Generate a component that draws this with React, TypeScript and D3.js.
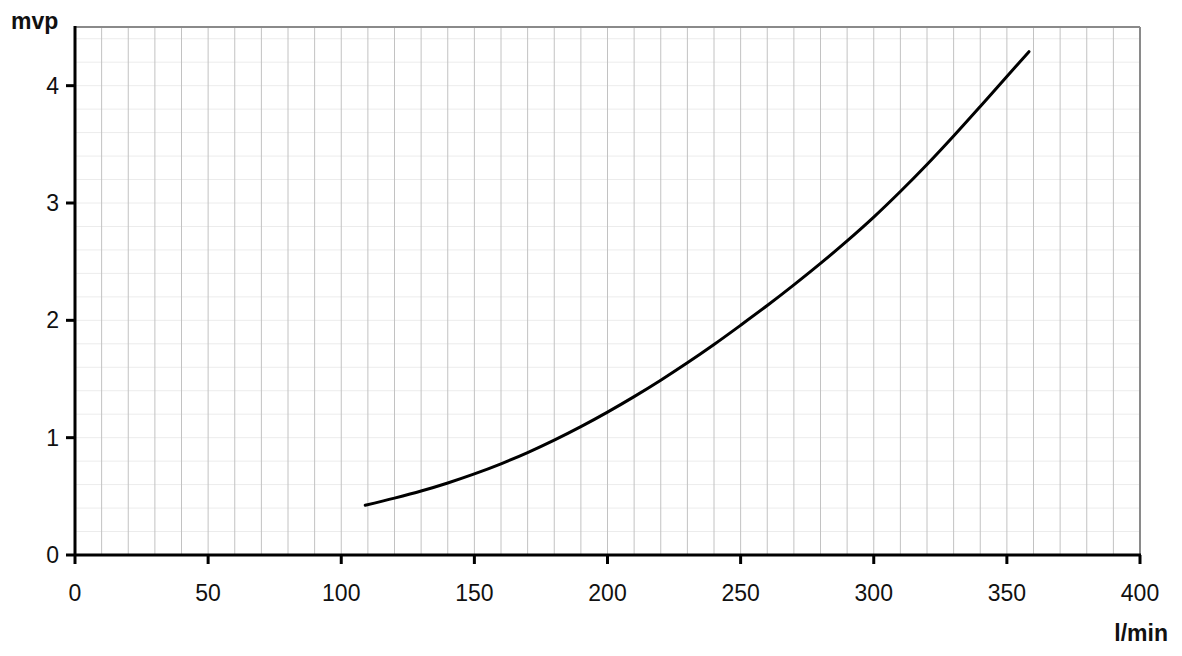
import React from "react";
import * as d3 from "d3";

const flowValues = [109, 120, 130, 140, 150, 160, 170, 180, 190, 200, 210, 220, 230, 240, 250, 260, 270, 280, 290, 300, 310, 320, 330, 340, 350, 358.3];
const pressureValues = [0.424, 0.485, 0.545, 0.614, 0.691, 0.777, 0.873, 0.979, 1.094, 1.218, 1.35, 1.49, 1.638, 1.794, 1.958, 2.126, 2.302, 2.485, 2.677, 2.88, 3.098, 3.328, 3.571, 3.823, 4.079, 4.29];
const xTicks = [0, 50, 100, 150, 200, 250, 300, 350, 400];
const yTicks = [0, 1, 2, 3, 4];
const yTitle = "mvp";
const xTitle = "l/min";

export default function App() {
  const W = 1182, H = 656;
  const left = 75, right = 1140, top = 27, bottom = 555;
  const x = d3.scaleLinear().domain([0, 400]).range([left, right]);
  const y = d3.scaleLinear().domain([0, 4.5]).range([bottom, top]);
  const vGrid = d3.range(10, 400, 10);
  const hGrid = d3.range(1, 23).map((i) => i * 0.2);
  const pts = flowValues.map((f, i) => [f, pressureValues[i]] as [number, number]);
  const line = d3.line<[number, number]>().x((d) => x(d[0])).y((d) => y(d[1])).curve(d3.curveCatmullRom);
  const font = "'Liberation Sans', Arial, sans-serif";
  return (
    <svg width={W} height={H} style={{ position: "absolute", left: 0, top: 0, background: "#fff" }} fontFamily={font}>
      {hGrid.map((v) => (
        <line key={"h" + v} x1={left} x2={right} y1={y(v)} y2={y(v)} stroke="#ececec" strokeWidth={1} />
      ))}
      {vGrid.map((v) => (
        <line key={"v" + v} x1={x(v)} x2={x(v)} y1={top} y2={bottom} stroke="#c2c2c2" strokeWidth={1} />
      ))}
      <line x1={left} x2={right} y1={top} y2={top} stroke="#8a8a8a" strokeWidth={2} />
      <line x1={right} x2={right} y1={top} y2={bottom} stroke="#8a8a8a" strokeWidth={2} />
      <path d={line(pts) || ""} fill="none" stroke="#000" strokeWidth={3} strokeLinecap="round" />
      <line x1={left} x2={left} y1={top - 1} y2={bottom + 1} stroke="#000" strokeWidth={3} />
      <line x1={left - 1} x2={right + 1} y1={bottom} y2={bottom} stroke="#000" strokeWidth={3} />
      {yTicks.map((t) => (
        <g key={"yt" + t}>
          <line x1={left - 9} x2={left} y1={y(t)} y2={y(t)} stroke="#000" strokeWidth={3} />
          <text x={left - 16} y={y(t)} dy="0.35em" textAnchor="end" fontSize={23} fill="#111">{t}</text>
        </g>
      ))}
      {xTicks.map((t) => (
        <g key={"xt" + t}>
          <line x1={x(t)} x2={x(t)} y1={bottom} y2={bottom + 9} stroke="#000" strokeWidth={3} />
          <text x={x(t)} y={601} textAnchor="middle" fontSize={23} fill="#111">{t}</text>
        </g>
      ))}
      <text x={11} y={29} fontSize={23} fontWeight="bold" fill="#111">{yTitle}</text>
      <text x={1168} y={641} textAnchor="end" fontSize={23} fontWeight="bold" fill="#111">{xTitle}</text>
    </svg>
  );
}
